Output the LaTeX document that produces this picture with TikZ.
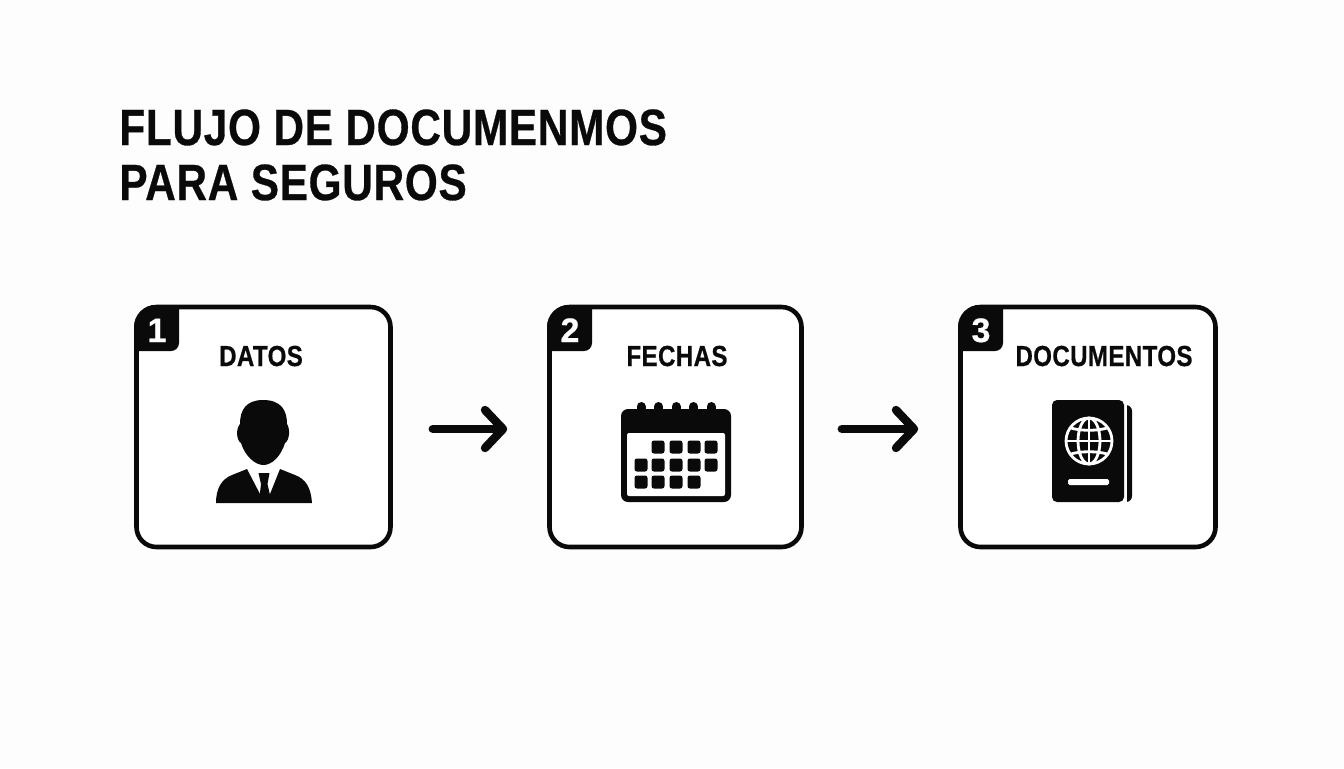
\documentclass[tikz,border=0pt]{standalone}
\usepackage{fontspec}
\usepackage{tikz}
\usetikzlibrary{arrows.meta}
\newfontfamily\narrowbold[FakeStretch=0.83, LetterSpace=1.4, FakeBold=0.6]{Liberation Sans Bold}
\newfontfamily\digitbold[FakeBold=0.6]{Liberation Sans Bold}
\definecolor{ink}{HTML}{0A0A0A}
\definecolor{paper}{HTML}{FDFDFD}
\tikzset{
  cardbox/.style={draw=ink, line width=2.3pt, fill=white, rounded corners=10pt, minimum width=127pt, minimum height=120pt, inner sep=0pt},
  cardlabel/.style={anchor=base, inner sep=0pt, text=ink, font=\narrowbold\fontsize{14.5}{17}\selectfont},
  badgenum/.style={anchor=base, inner sep=0pt, text=white, font=\digitbold\fontsize{17}{20}\selectfont},
  flowarrow/.style={draw=ink, line width=4.2pt, line cap=round, -{Straight Barb[length=9pt, width=19pt, round]}},
  titletext/.style={anchor=north west, inner sep=0pt, align=left, text=ink, font=\narrowbold\fontsize{25.5}{27.5}\selectfont}
}
\begin{document}
\begin{tikzpicture}[x=0.5pt, y=-0.5pt]
\useasboundingbox (0,0) rectangle (1344,768);
\fill[paper] (0,0) rectangle (1344,768);

% Title
\node[titletext] (title) at (119,109) {FLUJO DE DOCUMENMOS\\PARA SEGUROS};

% Boxes
\node[cardbox] (datos) at (263.5,427) {};
\node[cardbox, minimum width=126pt] (fechas) at (675.5,427) {};
\node[cardbox, minimum width=127.5pt] (docs) at (1088,427) {};
\coordinate (row) at (0,429);

% Badges
\foreach \bx/\bnum/\bname in {134/1/bone,547/2/btwo,958/3/bthree} {
  \fill[ink] (\bx,351) [rounded corners=11pt] -- (\bx,305) [rounded corners=0pt] -- (\bx+45,305) [rounded corners=4pt] -- (\bx+45,351) [sharp corners] -- cycle;
  \node[badgenum] (\bname) at (\bx+23,342) {\bnum};
}

% Labels
\node[cardlabel] (ldatos) at (261,366) {DATOS};
\node[cardlabel] (lfechas) at (677,366) {FECHAS};
\node[cardlabel] (ldocs) at (1104,366) {DOCUMENTOS};

% Arrows
\draw[flowarrow, shorten <=20pt, shorten >=20pt] (datos.east |- row) -- (fechas.west |- row);
\draw[flowarrow, shorten <=19pt, shorten >=20pt] (fechas.east |- row) -- (docs.west |- row);

% Person icon
\fill[ink] (263,400) .. controls (281,400) and (287,410) .. (287,424) .. controls (290,428) and (290,440) .. (285,443) .. controls (281,456) and (272,465) .. (263.5,465) .. controls (255,465) and (245,456) .. (241,443) .. controls (236,440) and (236,428) .. (240,424) .. controls (240,410) and (246,400) .. (263,400) -- cycle;
\fill[ink] (216,503) .. controls (216,488) and (222,479) .. (232,475) -- (247,469) -- (260,494) -- (270,494) -- (280,469) -- (295,475) .. controls (306,479) and (311,488) .. (312,503) -- cycle;
\fill[ink] (258.5,473) -- (269.5,473) -- (267.5,484) -- (270.5,497) -- (259.5,497) -- (261,484) -- cycle;

% Calendar icon
\foreach \cx in {641,658.5,676,693.5,711} {
  \draw[ink, line width=4.5pt, line cap=round] (\cx,406.5) -- (\cx,415);
}
\fill[ink, rounded corners=3.5pt] (621,409) rectangle (731,502);
\fill[white, rounded corners=1pt] (627,433) rectangle (725,496);
\foreach \cx/\cy in {658/447,676/447,694/447,711/447,
                     641/465,658/465,676/465,694/465,711/465,
                     641/482,658/482,676/482,694/482} {
  \fill[ink, rounded corners=1.2pt] (\cx-6.5,\cy-6.5) rectangle (\cx+6.5,\cy+6.5);
}

% Passport icon
\fill[ink, rounded corners=3pt] (1115,405) rectangle (1132,502);
\fill[paper] (1118,402) rectangle (1127,504);
\fill[ink, rounded corners=2.5pt] (1052,400) rectangle (1124,502);
\begin{scope}[line width=1.4pt]
  \draw[white] (1089,441) circle[radius=23];
  \draw[white] (1089,441) ellipse[x radius=11, y radius=23];
  \draw[white] (1089,418) -- (1089,464);
  \draw[white] (1066,441) -- (1112,441);
  \draw[white] (1071,428) .. controls (1080,431) and (1098,431) .. (1107,428);
  \draw[white] (1071,454) .. controls (1080,451) and (1098,451) .. (1107,454);
\end{scope}
\fill[white, rounded corners=0.8pt] (1068,479) rectangle (1109,485);
\end{tikzpicture}
\end{document}
